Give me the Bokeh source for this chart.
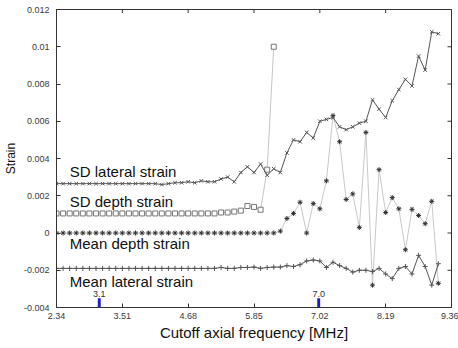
import math
from bokeh.plotting import figure
from bokeh.models import FixedTicker, Label, BoxAnnotation, Range1d
from bokeh.embed import file_html
from bokeh.resources import INLINE

# ---------------- data ----------------
freq = [2.340, 2.457, 2.574, 2.691, 2.808, 2.925, 3.042, 3.159, 3.276, 3.393,
        3.510, 3.627, 3.744, 3.861, 3.978, 4.095, 4.212, 4.329, 4.446, 4.563,
        4.680, 4.797, 4.914, 5.031, 5.148, 5.265, 5.382, 5.499, 5.616, 5.733,
        5.850, 5.967, 6.084, 6.201, 6.318, 6.435, 6.552, 6.669, 6.786, 6.903,
        7.020, 7.137, 7.254, 7.371, 7.488, 7.605, 7.722, 7.839, 7.956, 8.073,
        8.190, 8.307, 8.424, 8.541, 8.658, 8.775, 8.892, 9.009, 9.126]

sd_lateral = [0.00265, 0.00265, 0.00265, 0.00265, 0.00265, 0.00265, 0.00265, 0.00265, 0.00265, 0.00265,
              0.00265, 0.00265, 0.00265, 0.00265, 0.00265, 0.00265, 0.00260, 0.00265, 0.00270, 0.00270,
              0.00275, 0.00270, 0.00280, 0.00275, 0.00275, 0.00290, 0.00300, 0.00275, 0.00325, 0.00355,
              0.00325, 0.00370, 0.00310, 0.00345, 0.00325, 0.00430, 0.00500, 0.00490, 0.00540, 0.00510,
              0.00600, 0.00610, 0.00620, 0.00570, 0.00555, 0.00570, 0.00590, 0.00600, 0.00715, 0.00665,
              0.00620, 0.00710, 0.00770, 0.00825, 0.00790, 0.00950, 0.00875, 0.01080, 0.01070]

sd_depth = [0.00105, 0.00105, 0.00105, 0.00105, 0.00105, 0.00105, 0.00105, 0.00105, 0.00105, 0.00105,
            0.00105, 0.00105, 0.00105, 0.00105, 0.00105, 0.00105, 0.00105, 0.00105, 0.00105, 0.00105,
            0.00105, 0.00105, 0.00105, 0.00105, 0.00105, 0.00110, 0.00110, 0.00115, 0.00120, 0.00145,
            0.00140, 0.00125, 0.00340, 0.01000]

mean_depth = [0.0, 0.0, 0.0, 0.0, 0.0, 0.0, 0.0, 0.0, 0.0, 0.0,
              0.0, 0.0, 0.0, 0.0, 0.0, 0.0, 0.0, 0.0, 0.0, 0.0,
              0.0, 0.0, 0.0, 0.0, 0.0, 0.0, 0.0, 0.0, 0.0, 0.0,
              0.0, 0.0, 0.0, 0.0, 0.0001, 0.00078, 0.00105, 0.00165, 0.0, 0.00158,
              0.0013, 0.0028, 0.0063, 0.0049, 0.0018, 0.0021, 0.0003, 0.0054, -0.0028, 0.0034,
              0.0011, 0.0019, 0.0013, -0.0009, 0.00127, 0.00094, 0.0005, 0.0017, -0.0027]

mean_lateral = [-0.0019, -0.0019, -0.0019, -0.0019, -0.0019, -0.0019, -0.0019, -0.0019, -0.0019, -0.0019,
                -0.0019, -0.0019, -0.0019, -0.0019, -0.0019, -0.0019, -0.0019, -0.0019, -0.0019, -0.0019,
                -0.0019, -0.0019, -0.0019, -0.0019, -0.0019, -0.00185, -0.0019, -0.0019, -0.00185, -0.00185,
                -0.00183, -0.0019, -0.00185, -0.00183, -0.00183, -0.00175, -0.0018, -0.0017, -0.0015, -0.00145,
                -0.0015, -0.00185, -0.00157, -0.00175, -0.0019, -0.0021, -0.0020, -0.0020, -0.00207, -0.0019,
                -0.0022, -0.00245, -0.0019, -0.0018, -0.0022, -0.0012, -0.0018, -0.0028, -0.00165]

x_ticks = [2.34, 3.51, 4.68, 5.85, 7.02, 8.19, 9.36]
x_tick_labels = ["2.34", "3.51", "4.68", "5.85", "7.02", "8.19", "9.36"]
y_ticks = [-0.004, -0.002, 0.0, 0.002, 0.004, 0.006, 0.008, 0.01, 0.012]
y_tick_labels = ["-0.004", "-0.002", "0", "0.002", "0.004", "0.006", "0.008", "0.01", "0.012"]

series_names = ["SD lateral strain", "SD depth strain", "Mean depth strain", "Mean lateral strain"]
name_baselines = [0.00330, 0.00168, -0.00057, -0.00258]
name_left = 2.575

cutoff_marks = [3.1, 7.0]
cutoff_labels = ["3.1", "7.0"]

x_title = "Cutoff axial frequency [MHz]"
y_title = "Strain"

X_MIN, X_MAX = 2.34, 9.36
Y_MIN, Y_MAX = -0.004, 0.012

FONT = "Liberation Sans"

# ---------------- figure ----------------
p = figure(width=458, height=348,
           x_range=Range1d(X_MIN, X_MAX), y_range=Range1d(Y_MIN, Y_MAX),
           output_backend="svg", toolbar_location=None,
           min_border_left=55, min_border_right=7, min_border_top=9, min_border_bottom=41,
           background_fill_color="white", border_fill_color="white")
p.grid.visible = False
p.outline_line_color = "#333333"
p.outline_line_width = 1

def style_axis(ax, ticks, labels):
    ax.ticker = FixedTicker(ticks=ticks)
    ax.major_label_overrides = {t: l for t, l in zip(ticks, labels)}
    ax.major_tick_in = 4
    ax.major_tick_out = 0
    ax.minor_tick_line_color = None
    ax.axis_line_color = "#333333"
    ax.major_tick_line_color = "#333333"
    ax.major_label_text_font = FONT
    ax.major_label_text_color = "#3a3a3a"
    ax.major_label_text_font_size = "9px"
    ax.axis_label_text_font = FONT
    ax.axis_label_text_font_style = "normal"
    ax.axis_label_text_color = "#111111"

style_axis(p.xaxis[0], x_ticks, x_tick_labels)
p.xaxis[0].major_label_standoff = 5
p.xaxis[0].axis_label = x_title
p.xaxis[0].axis_label_text_font_size = "15px"
p.xaxis[0].axis_label_standoff = 2

style_axis(p.yaxis[0], y_ticks, y_tick_labels)
p.yaxis[0].major_label_standoff = 7
p.yaxis[0].axis_label = y_title
p.yaxis[0].axis_label_text_font_size = "12px"
p.yaxis[0].axis_label_standoff = 3

# mirrored inner ticks on top and right edges (half of each dash is clipped by the frame)
p.scatter(x_ticks, [Y_MAX] * len(x_ticks), marker="dash", angle=math.pi / 2, size=7,
          line_color="#333333", line_width=1)
p.scatter([X_MAX] * len(y_ticks), y_ticks, marker="dash", size=8,
          line_color="#333333", line_width=1)

# ---------------- series ----------------
n_sd = len(sd_depth)
p.line(freq[:n_sd], sd_depth, line_color="#c4c4c4", line_width=1)
p.scatter(freq[:n_sd], sd_depth, marker="square", size=5, fill_color="white",
          line_color="#777777", line_width=1)

p.line(freq, mean_depth, line_color="#c8c8c8", line_width=1)
p.scatter(freq, mean_depth, marker="asterisk", size=5, line_color="#333333", line_width=1)

p.line(freq, sd_lateral, line_color="#555555", line_width=1)
p.scatter(freq, sd_lateral, marker="x", size=5, line_color="#555555", line_width=1)

p.line(freq, mean_lateral, line_color="#555555", line_width=1)
p.scatter(freq, mean_lateral, marker="cross", size=5, line_color="#555555", line_width=1)

# ---------------- series names ----------------
for name, yb in zip(series_names, name_baselines):
    p.add_layout(Label(x=name_left, y=yb, text=name, text_font=FONT, text_font_size="15px",
                       text_color="#111111", text_baseline="alphabetic", text_align="left"))

# ---------------- cutoff marks ----------------
for m, lab in zip(cutoff_marks, cutoff_labels):
    p.add_layout(BoxAnnotation(left=m - 0.026, right=m + 0.026, bottom=Y_MIN, top=-0.0035,
                               fill_color="#1c1cc8", fill_alpha=1.0, line_color=None))
    p.add_layout(Label(x=m, y=-0.00345, text=lab, text_font=FONT, text_font_size="9px",
                       text_color="#333333", text_align="center", text_baseline="bottom"))

open("out.html", "w").write(file_html(p, INLINE))
